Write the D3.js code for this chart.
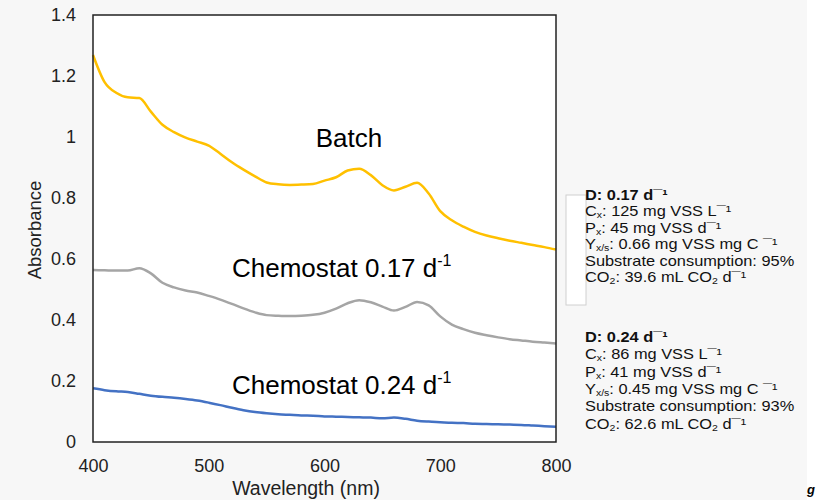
<!DOCTYPE html>
<html>
<head>
<meta charset="utf-8">
<script src="https://cdn.jsdelivr.net/npm/d3@7"></script>
<style>
  body { margin: 0; background: #fff; }
  svg { display: block; font-family: "Liberation Sans", Arial, sans-serif; }
</style>
</head>
<body>
<script>
var width = 819,
    height = 500,
    margin = {top: 15, right: 263, bottom: 58, left: 93};

// wavelength (nm), one reading every 10 nm
var wavelength = d3.range(400, 801, 10);

var batch = [1.269, 1.180, 1.145, 1.130, 1.128, 1.083, 1.040, 1.016, 0.998, 0.985,
             0.972, 0.945, 0.917, 0.893, 0.871, 0.851, 0.845, 0.843, 0.844, 0.846,
             0.857, 0.868, 0.890, 0.896, 0.875, 0.842, 0.825, 0.837, 0.850, 0.815,
             0.757, 0.727, 0.706, 0.689, 0.677, 0.668, 0.660, 0.653, 0.646, 0.639, 0.631];

var chemo017 = [0.564, 0.563, 0.562, 0.562, 0.570, 0.553, 0.522, 0.507, 0.497, 0.490,
                0.479, 0.467, 0.453, 0.438, 0.425, 0.416, 0.414, 0.413, 0.414, 0.417,
                0.424, 0.437, 0.455, 0.465, 0.458, 0.444, 0.431, 0.443, 0.459, 0.448,
                0.412, 0.385, 0.370, 0.358, 0.350, 0.343, 0.337, 0.333, 0.329, 0.326, 0.323];

var chemo024 = [0.176, 0.170, 0.166, 0.164, 0.158, 0.152, 0.148, 0.145, 0.141, 0.136,
                0.129, 0.121, 0.112, 0.104, 0.098, 0.094, 0.091, 0.089, 0.087, 0.086,
                0.084, 0.083, 0.082, 0.081, 0.080, 0.078, 0.080, 0.076, 0.070, 0.067,
                0.065, 0.063, 0.062, 0.060, 0.059, 0.058, 0.057, 0.056, 0.054, 0.052, 0.050];

var xTicks = [400, 500, 600, 700, 800];
var yTicks = [0, 0.2, 0.4, 0.6, 0.8, 1, 1.2, 1.4];

var seriesNames = ["Batch", "Chemostat 0.17", "Chemostat 0.24"];
var seriesColors = ["#FFC000", "#A5A5A5", "#4472C4"];

var innerW = width - margin.left - margin.right,
    innerH = height - margin.top - margin.bottom;

var svg = d3.select("body").append("svg")
    .attr("width", width)
    .attr("height", height);

// slide background
svg.append("rect")
    .attr("width", 807).attr("height", height)
    .attr("fill", "#f7f7f7");

var g = svg.append("g")
    .attr("transform", "translate(" + margin.left + "," + margin.top + ")");

var x = d3.scaleLinear().domain([400, 800]).range([0, innerW]);
var y = d3.scaleLinear().domain([0, 1.4]).range([innerH, 0]);

g.append("rect")
    .attr("width", innerW).attr("height", innerH)
    .attr("fill", "#fff");

var line = d3.line()
    .x(function(d) { return x(d[0]); })
    .y(function(d) { return y(d[1]); })
    .curve(d3.curveMonotoneX);

[batch, chemo017, chemo024].forEach(function(vals, i) {
  g.append("path")
    .datum(wavelength.map(function(w, j) { return [w, vals[j]]; }))
    .attr("fill", "none")
    .attr("stroke", seriesColors[i])
    .attr("stroke-width", 2.5)
    .attr("d", line);
});

// frame
g.append("rect")
    .attr("width", innerW).attr("height", innerH)
    .attr("fill", "none")
    .attr("stroke", "#222")
    .attr("stroke-width", 1.5);

var xAxis = g.append("g")
    .attr("transform", "translate(0," + innerH + ")")
    .call(d3.axisBottom(x).tickValues(xTicks).tickSize(0).tickPadding(17));
var yAxis = g.append("g")
    .call(d3.axisLeft(y).tickValues(yTicks).tickSize(0).tickPadding(17)
      .tickFormat(function(d) { return d3.format("")(+d.toFixed(1)); }));

[xAxis, yAxis].forEach(function(a) {
  a.select(".domain").remove();
  a.selectAll("text")
    .attr("font-size", 18)
    .attr("font-family", "Liberation Sans, Arial, sans-serif")
    .attr("fill", "#222");
});

svg.append("text")
    .attr("x", 306).attr("y", 495)
    .attr("text-anchor", "middle")
    .attr("font-size", 19.5).attr("fill", "#222")
    .text("Wavelength (nm)");

svg.append("text")
    .attr("transform", "translate(41,230) rotate(-90)")
    .attr("text-anchor", "middle")
    .attr("font-size", 18.5).attr("fill", "#222")
    .text("Absorbance");

// in-plot labels
svg.append("text")
    .attr("x", 349).attr("y", 147)
    .attr("text-anchor", "middle")
    .attr("font-size", 26)
    .text("Batch");

function chemoLabel(txt, yPos) {
  var t = svg.append("text")
      .attr("x", 232).attr("y", yPos)
      .attr("font-size", 26);
  t.append("tspan").text(txt + " d");
  t.append("tspan").attr("font-size", 16).attr("dy", -11).text("-1");
}
chemoLabel("Chemostat 0.17", 277);
chemoLabel("Chemostat 0.24", 394);

// stray box behind annotation
svg.append("rect")
    .attr("x", 566).attr("y", 195)
    .attr("width", 20).attr("height", 110)
    .attr("fill", "#fff")
    .attr("stroke", "#d0d0d0");

// annotations
var notes = [
  {y0: 200, step: 16.4, D: "0.17", Cx: "125", Px: "45", Y: "0.66", S: "95", CO2: "39.6"},
  {y0: 342, step: 17.3, D: "0.24", Cx: "86", Px: "41", Y: "0.45", S: "93", CO2: "62.6"}
];

notes.forEach(function(n) {
  function row(i) {
    return svg.append("text")
      .attr("transform", "translate(585," + (n.y0 + i * n.step) + ") scale(1.17,1)")
      .attr("font-size", 14).attr("fill", "#111");
  }
  function sup(t, s) { t.append("tspan").text(s); }
  function sub(t, s) { t.append("tspan").attr("font-size", 9).attr("dy", 2).text(s); }

  var t0 = row(0).attr("font-weight", "bold");
  t0.append("tspan").text("D: " + n.D + " d");
  sup(t0, "¯¹");

  var t1 = row(1);
  t1.append("tspan").text("C");
  sub(t1, "x");
  t1.append("tspan").attr("dy", -2).text(":  " + n.Cx + " mg VSS L");
  sup(t1, "¯¹");

  var t2 = row(2);
  t2.append("tspan").text("P");
  sub(t2, "x");
  t2.append("tspan").attr("dy", -2).text(":  " + n.Px + " mg VSS d");
  sup(t2, "¯¹");

  var t3 = row(3);
  t3.append("tspan").text("Y");
  sub(t3, "x/s");
  t3.append("tspan").attr("dy", -2).text(": " + n.Y + " mg VSS mg C ");
  sup(t3, "¯¹");

  row(4).text("Substrate consumption: " + n.S + "%");

  var t5 = row(5);
  t5.append("tspan").text("CO");
  sub(t5, "2");
  t5.append("tspan").attr("dy", -2).text(": " + n.CO2 + " mL CO");
  sub(t5, "2");
  t5.append("tspan").attr("dy", -2).text(" d");
  sup(t5, "¯¹");
});

// small glyph at the right edge
svg.append("text")
    .attr("x", 807).attr("y", 494)
    .attr("font-size", 13).attr("font-style", "italic").attr("font-weight", "bold")
    .text("g");
</script>
</body>
</html>
